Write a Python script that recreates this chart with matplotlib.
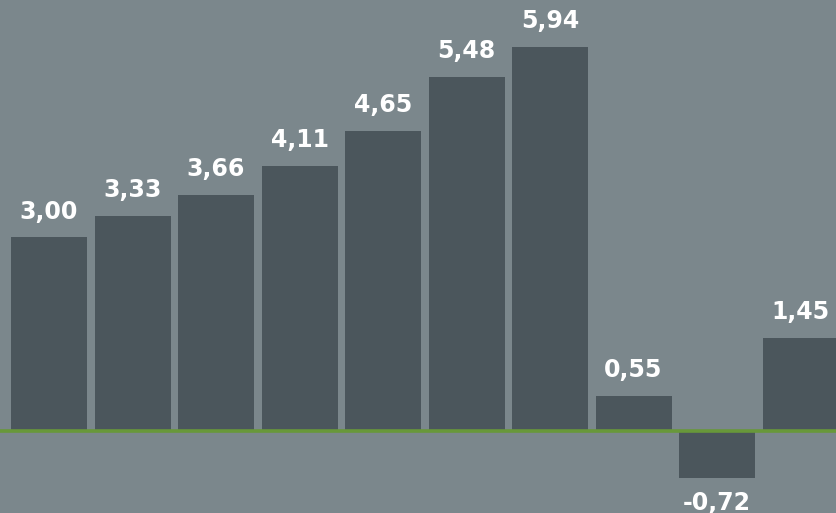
import matplotlib
matplotlib.use('Agg')
import matplotlib.pyplot as plt
import numpy as np

values = [3.00, 3.33, 3.66, 4.11, 4.65, 5.48, 5.94, 0.55, -0.72, 1.45]
labels = [f"{v:.2f}".replace('.', ',') for v in values]

bg = '#7b878c'
bar_color = '#4b565c'
green = '#68983a'

fig = plt.figure(figsize=(8.37, 5.13), dpi=100)
fig.patch.set_facecolor(bg)
ax = fig.add_axes([0, 0, 1, 1])
ax.set_facecolor(bg)

x = np.arange(len(values))
ax.bar(x, values, width=0.91, color=bar_color, zorder=2)
ax.axhline(0, color=green, linewidth=2.6, zorder=3)

for xi, v, lab in zip(x, values, labels):
    if v >= 0:
        ax.annotate(lab, (xi, v), xytext=(0, 10), textcoords='offset points',
                    ha='center', va='bottom', color='white', fontsize=17,
                    fontweight='bold', zorder=4)
    else:
        ax.annotate(lab, (xi, v), xytext=(0, -9), textcoords='offset points',
                    ha='center', va='top', color='white', fontsize=17,
                    fontweight='bold', zorder=4)

ax.set_xlim(-0.587, 9.437)
ax.set_ylim(-1.26, 6.67)
ax.axis('off')

plt.savefig('out.png', dpi=100, facecolor=bg)
plt.close()
print("Saved: out.png")
